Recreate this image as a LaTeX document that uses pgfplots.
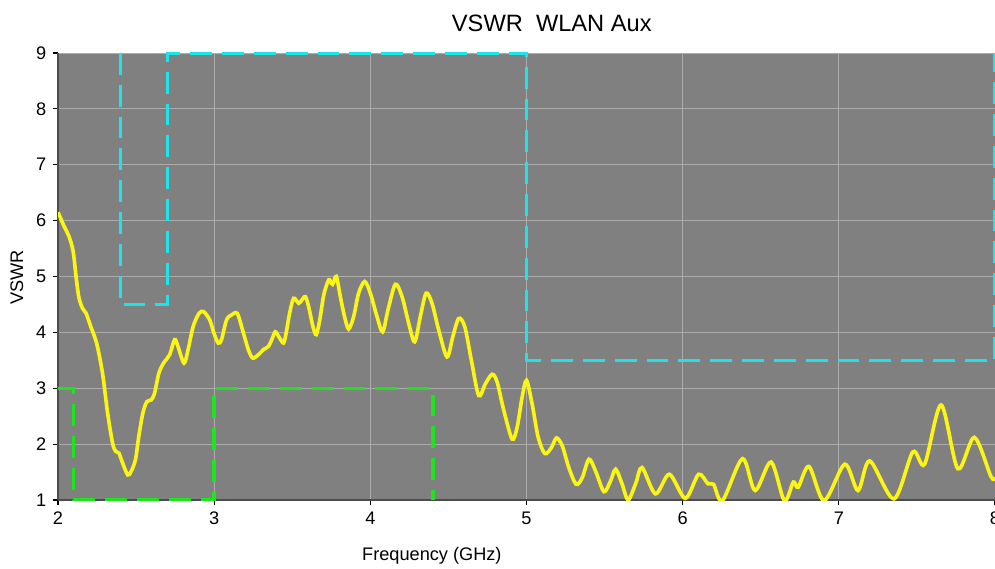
\documentclass[border=0pt]{standalone}
\usepackage{fontspec}
\setmainfont{Liberation Sans}
\usepackage{pgfplots}
\pgfplotsset{compat=1.18}

\definecolor{bggray}{RGB}{128,128,128}
\definecolor{gridgray}{RGB}{172,172,172}
\definecolor{vswryellow}{RGB}{250,245,20}
\definecolor{maskcyan}{RGB}{30,228,232}
\definecolor{maskgreen}{RGB}{30,228,30}

\begin{document}
\begin{tikzpicture}
\begin{axis}[
    name=ax,
    scale only axis,
    width=515.35pt, height=245.85pt,
    xmin=2, xmax=8, ymin=1, ymax=9,
    xtick={2,...,8}, ytick={1,...,9},
    axis x line=bottom, axis y line=left,
    axis line style={-, draw=black!70, line width=0.8pt},
    tick align=outside, major tick length=3pt,
    tick style={black, line width=0.6pt},
    grid=major, grid style={gridgray, line width=0.5pt},
    axis background/.style={fill=bggray},
    /pgf/number format/assume math mode=true,
    tick label style={font=\fontsize{10}{12}\selectfont},
    every axis title shift=0pt,
    title={VSWR\ \ WLAN Aux},
    title style={at={(0.527,1.0476)}, anchor=base, font=\fontsize{13}{15}\selectfont},
    xlabel={Frequency (GHz)},
    xlabel style={at={(0.399,-0.1363)}, anchor=base, font=\fontsize{10}{12}\selectfont},
    ylabel={VSWR},
    ylabel style={at={(-0.044,0.498)}, anchor=center, font=\fontsize{10}{12}\selectfont},
]

% mask limits
\addplot[maskcyan, line width=1.9pt, dash pattern=on 12pt off 5.5pt]
    coordinates {(2.4,9) (2.4,4.5) (2.7,4.5) (2.7,9) (5,9) (5,3.5) (8,3.5) (8,9)};
\addplot[maskgreen, line width=1.9pt, dash pattern=on 12pt off 5.5pt]
    coordinates {(2,3) (2.1,3) (2.1,1) (3,1) (3,3) (4.4,3) (4.4,1)};

% measured VSWR
\addplot[vswryellow, line width=2pt, smooth, tension=0.5] coordinates {
    (2.000,6.15) (2.039,5.90) (2.070,5.72) (2.097,5.45) (2.118,4.94)
    (2.135,4.61) (2.157,4.43) (2.180,4.34) (2.210,4.10) (2.247,3.81)
    (2.285,3.27) (2.318,2.55) (2.350,2.01) (2.370,1.87) (2.390,1.84)
    (2.410,1.69) (2.446,1.45) (2.468,1.51) (2.496,1.72) (2.517,2.13)
    (2.543,2.55) (2.569,2.76) (2.597,2.79) (2.618,2.91) (2.646,3.27)
    (2.676,3.45) (2.715,3.60) (2.747,3.87) (2.768,3.75) (2.807,3.45)
    (2.833,3.69) (2.865,4.10) (2.903,4.34) (2.933,4.37) (2.972,4.22)
    (2.998,3.99) (3.026,3.81) (3.047,3.87) (3.079,4.22) (3.110,4.31)
    (3.148,4.34) (3.182,4.04) (3.219,3.69) (3.247,3.54) (3.283,3.60)
    (3.315,3.69) (3.348,3.75) (3.369,3.87) (3.391,4.01) (3.412,3.93)
    (3.444,3.81) (3.461,3.99) (3.483,4.34) (3.509,4.61) (3.541,4.52)
    (3.562,4.58) (3.584,4.64) (3.605,4.46) (3.633,4.10) (3.654,3.96)
    (3.676,4.22) (3.702,4.67) (3.734,4.94) (3.758,4.86) (3.782,5.00)
    (3.808,4.64) (3.835,4.28) (3.861,4.06) (3.893,4.28) (3.925,4.70)
    (3.964,4.91) (4.000,4.70) (4.043,4.28) (4.079,4.01) (4.113,4.40)
    (4.160,4.86) (4.203,4.64) (4.246,4.16) (4.284,3.83) (4.320,4.28)
    (4.357,4.70) (4.395,4.52) (4.438,4.04) (4.491,3.56) (4.528,3.92)
    (4.566,4.25) (4.605,4.10) (4.647,3.50) (4.694,2.87) (4.737,3.08)
    (4.780,3.25) (4.812,3.11) (4.855,2.60) (4.908,2.09) (4.940,2.30)
    (4.972,2.84) (5.000,3.14) (5.036,2.72) (5.075,2.12) (5.118,1.83)
    (5.160,1.94) (5.192,2.11) (5.229,1.97) (5.271,1.58) (5.318,1.28)
    (5.357,1.40) (5.400,1.73) (5.442,1.52) (5.496,1.15) (5.538,1.34)
    (5.571,1.55) (5.613,1.28) (5.651,1.00) (5.700,1.30) (5.740,1.58)
    (5.826,1.11) (5.915,1.46) (6.017,1.03) (6.102,1.46) (6.162,1.29)
    (6.198,1.28) (6.255,0.99) (6.383,1.74) (6.464,1.17) (6.566,1.68)
    (6.651,0.99) (6.709,1.32) (6.740,1.23) (6.809,1.60) (6.906,0.99)
    (7.038,1.64) (7.123,1.17) (7.198,1.70) (7.353,1.02) (7.474,1.86)
    (7.549,1.64) (7.655,2.70) (7.762,1.56) (7.868,2.12) (7.974,1.42)
    (8.000,1.40)
};
\end{axis}
\pgfresetboundingbox
\path ([shift={(-31.9pt,-37.4pt)}]ax.south west) rectangle ([shift={(0pt,29.15pt)}]ax.north east);
\end{tikzpicture}
\end{document}
